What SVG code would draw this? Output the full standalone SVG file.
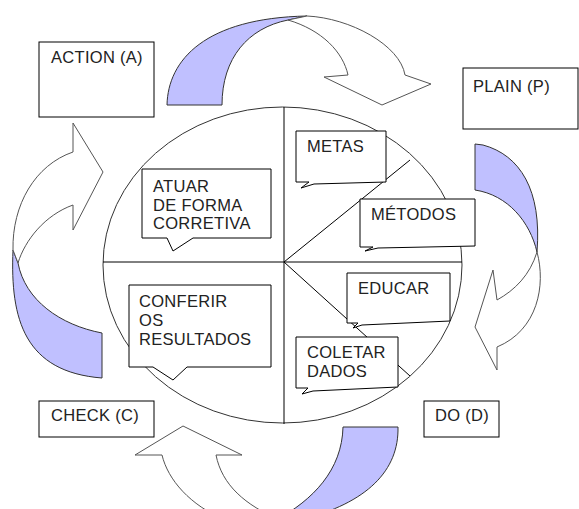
<svg xmlns="http://www.w3.org/2000/svg" width="579" height="509" viewBox="0 0 579 509">
<style>
.bg{fill:#ffffff}
.box{fill:#ffffff;stroke:#000000;stroke-width:1}
.line{fill:none;stroke:#000000;stroke-width:1}
.ring{fill:#ffffff;stroke:#333333;stroke-width:1}
.shade{fill:#C0C0FF;stroke:#333333;stroke-width:1;stroke-linejoin:round}
.band{fill:#ffffff;stroke:#555555;stroke-width:1;stroke-linejoin:miter}
text{font-family:"Liberation Sans",Arial,sans-serif;font-size:16.5px;letter-spacing:0.3px;fill:#222222}
</style>
<rect class="bg" x="0" y="0" width="579" height="509"/>

<g id="cycle-wheel">
  <ellipse class="ring" cx="282.5" cy="265" rx="179.5" ry="158"/>
  <line class="line" x1="284" y1="107" x2="284" y2="424"/>
  <line class="line" x1="103" y1="262" x2="462" y2="262"/>
  <line class="line" x1="284" y1="262" x2="410" y2="160"/>
  <line class="line" x1="284" y1="262" x2="410" y2="376"/>
</g>

<g id="connectors">
  <!-- top: Action -> Plain -->
  <path class="shade" d="M167,105 C168,60 205,18 307,16 L288,20 C248,28 222,58 222,105 Z"/>
  <path class="band" d="M307,16 C350,18 400,45 405,75 L431,84 L382,105 L324,77 L348,75 C343,52 322,30 288,20 Z"/>
  <!-- right: Plain -> Do -->
  <path class="shade" d="M475,144 L483,145 C520,155 542,190 537,252 C530,222 508,195 475,190 Z"/>
  <path class="band" d="M537,252 C546,285 538,330 497,347 L497,370 L475,327 L493,270 L497,300 C515,290 530,275 537,252 Z"/>
  <!-- bottom: Do -> Check -->
  <path class="shade" d="M343,427 L398,427 C399,470 368,503 300,520 L276,520 C313,500 342,470 343,427 Z"/>
  <path class="band" d="M183,426 L242,455 L216,455 C222,485 245,505 280,520 L225,520 C190,505 168,480 162,455 L135,455 Z"/>
  <!-- left: Check -> Action -->
  <path class="shade" d="M13,250 C10,320 25,372 102,378 L102,333 C60,325 25,300 18,263 Z"/>
  <path class="band" d="M13,250 C12,205 35,165 73,152 L73,123 L103,172 L73,230 L73,205 C45,215 25,240 18,263 Z"/>
</g>

<g id="action">
  <rect class="box" x="39" y="42" width="115" height="75"/>
  <text x="51" y="63">ACTION (A)</text>
</g>
<g id="plain">
  <rect class="box" x="463" y="68" width="115" height="61"/>
  <text x="473" y="92">PLAIN (P)</text>
</g>
<g id="check">
  <rect class="box" x="39" y="401" width="115" height="36"/>
  <text x="51" y="421">CHECK (C)</text>
</g>
<g id="do">
  <rect class="box" x="424" y="401" width="75" height="36"/>
  <text x="435" y="421">DO (D)</text>
</g>

<g id="metas">
  <path class="box" d="M296,131 H386 V182 L314,184 L301,188 L309,182 H296 Z"/>
  <text x="307" y="152">METAS</text>
</g>
<g id="metodos">
  <path class="box" d="M360,199 H475 V246 L378,248 L365,251 L373,247 H360 Z"/>
  <text x="371" y="220">MÉTODOS</text>
</g>
<g id="educar">
  <path class="box" d="M347,273 H450 V321 L362,325 L353,328 L358,323 H347 Z"/>
  <text x="358" y="294">EDUCAR</text>
</g>
<g id="coletar">
  <path class="box" d="M296,337 H398 V387 L313,391 L302,394 L308,388 H296 Z"/>
  <text x="307" y="358">COLETAR</text>
  <text x="307" y="377">DADOS</text>
</g>
<g id="atuar">
  <path class="box" d="M142,169 H271 V238 H193 L173,251 L167,238 H142 Z"/>
  <text x="153" y="192">ATUAR</text>
  <text x="153" y="211">DE FORMA</text>
  <text x="153" y="229">CORRETIVA</text>
</g>
<g id="conferir">
  <path class="box" d="M129,285 H271 V367 H187 L173,380 L153,367 H129 Z"/>
  <text x="139" y="307">CONFERIR</text>
  <text x="139" y="326">OS</text>
  <text x="139" y="345">RESULTADOS</text>
</g>
</svg>
